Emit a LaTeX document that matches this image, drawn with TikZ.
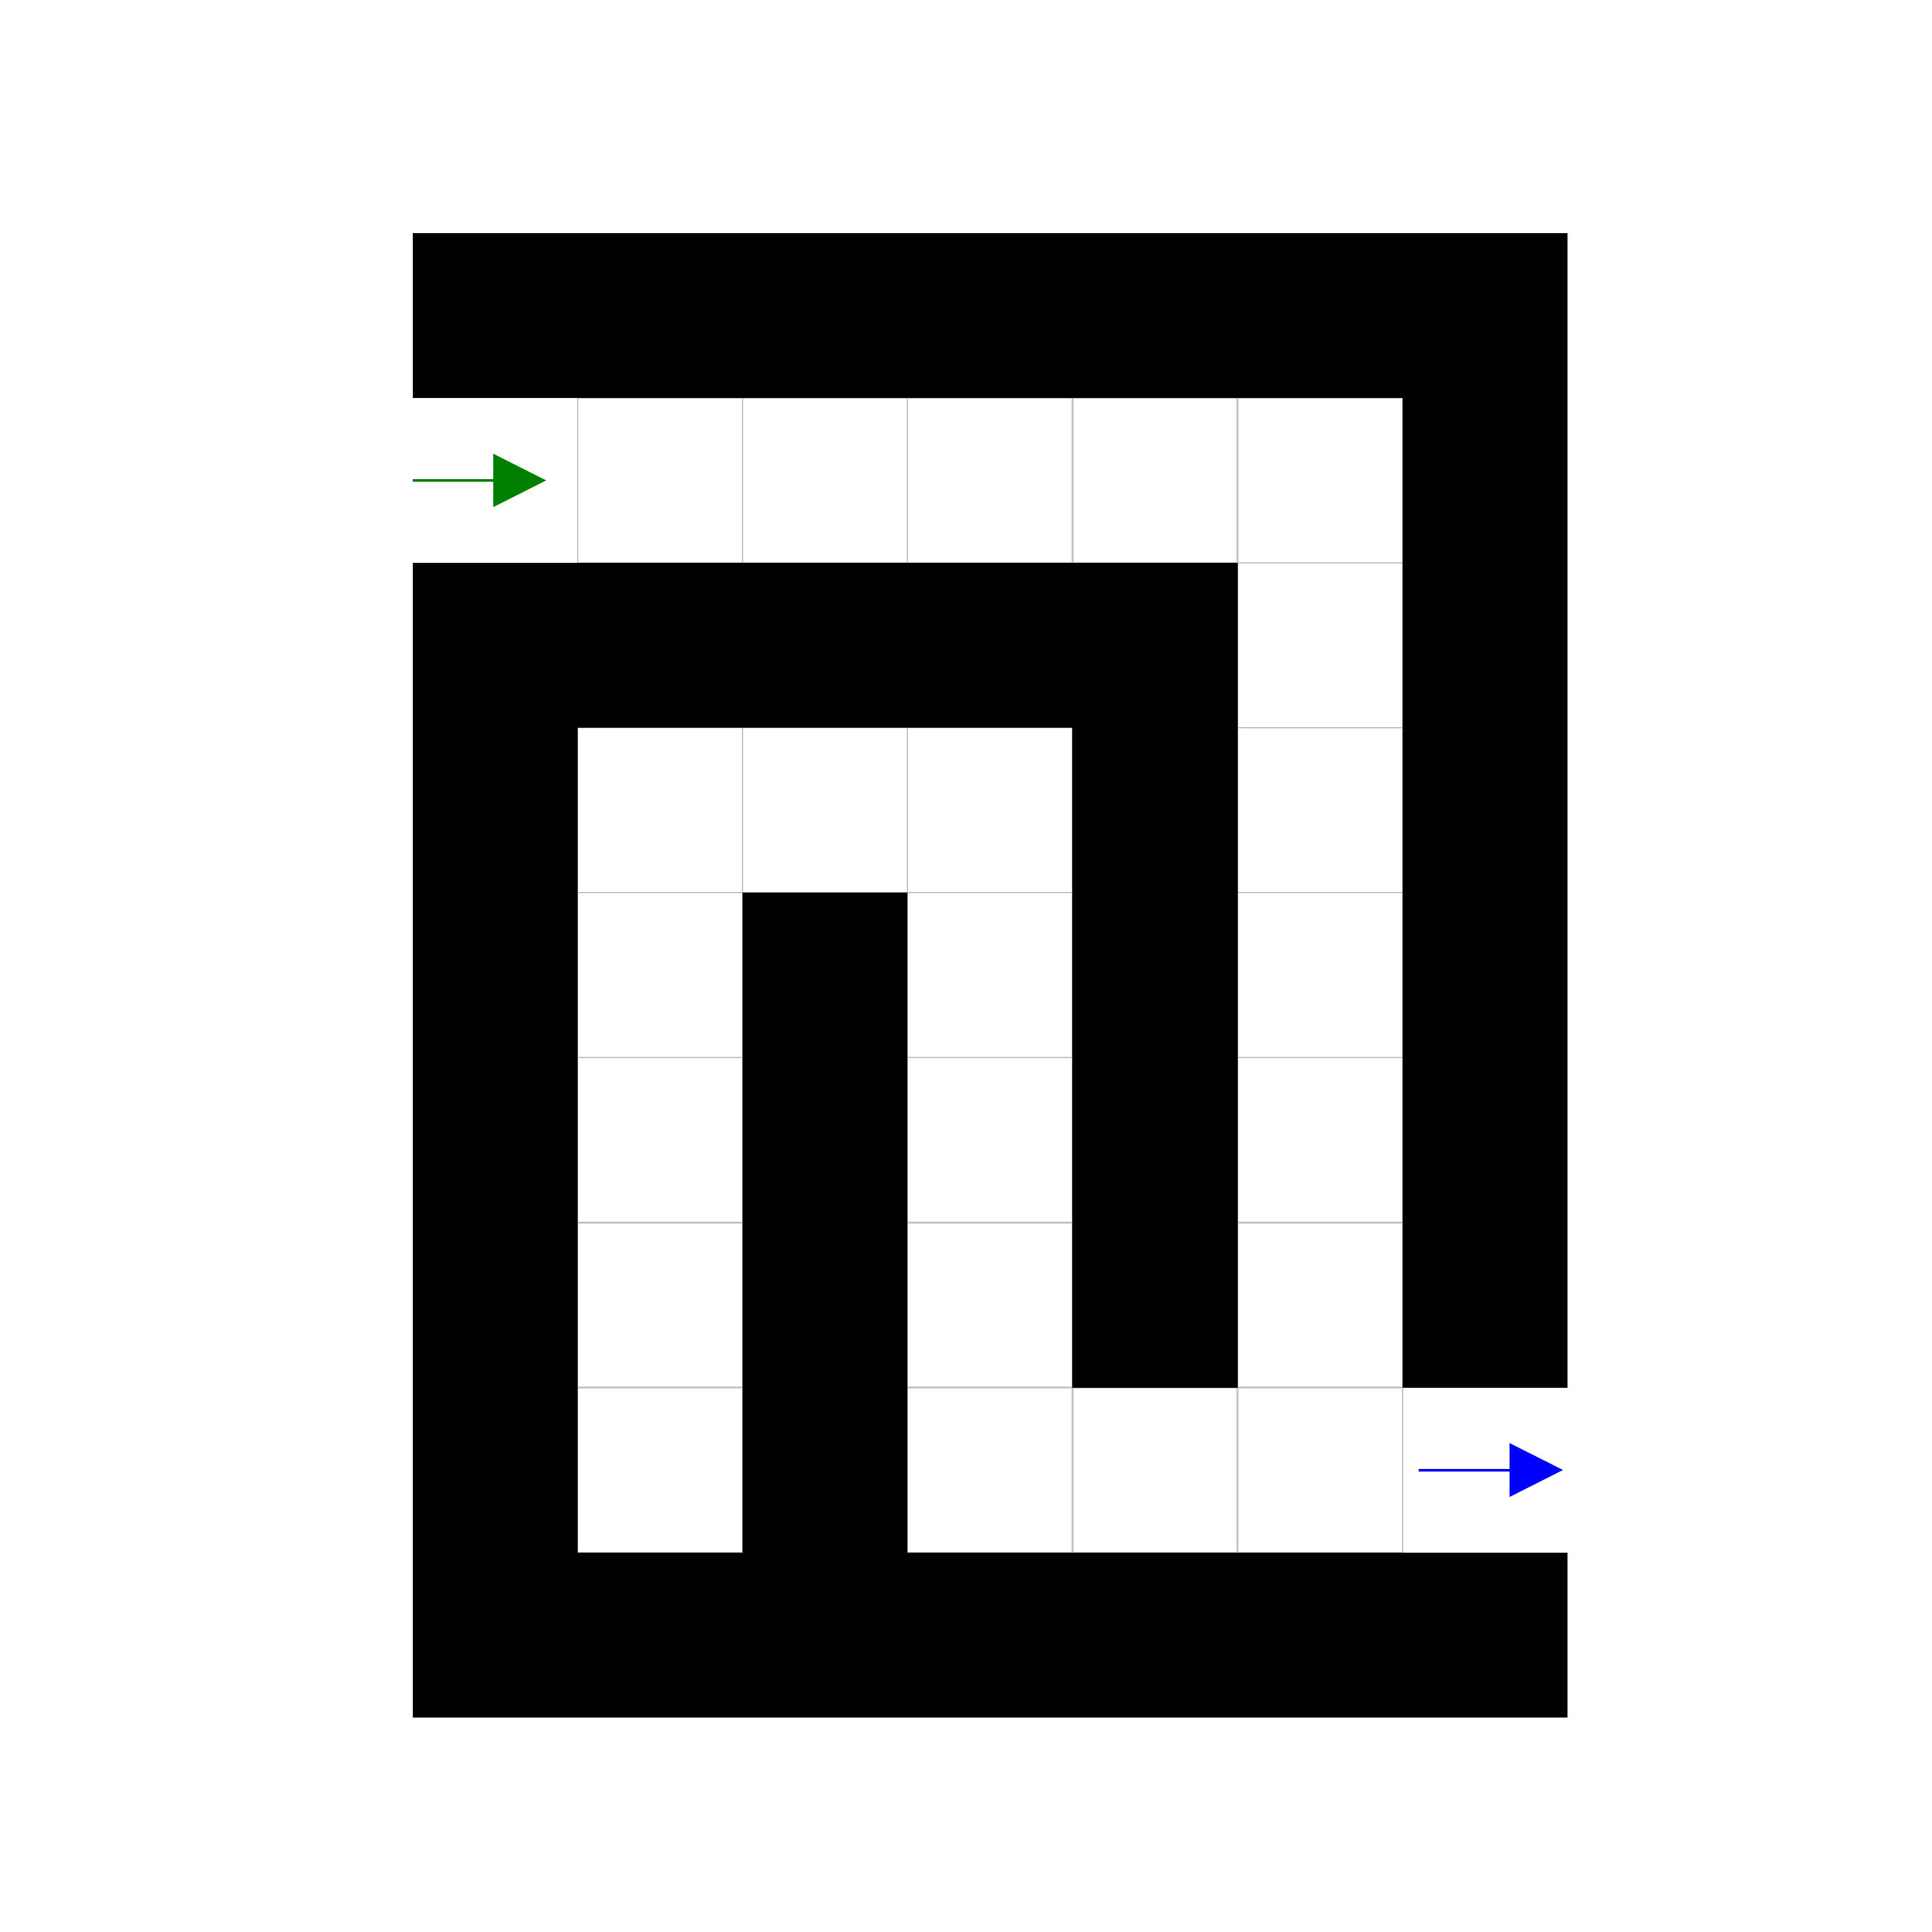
\documentclass[tikz,border=0pt]{standalone}
\definecolor{startgreen}{RGB}{0,128,0}
\begin{document}
\begin{tikzpicture}[x=1cm,y=1cm,
  cellline/.style={draw=black!24,line width=0.25pt},
  wall/.style={fill=black},
  arrowshaft/.style={line width=0.45pt}]
\useasboundingbox (-2.503,-1.30) rectangle (9.211,10.413);
% open cells: (col,row-from-top)
\foreach \c/\r in {1/1,2/1,3/1,4/1,5/1,
                   5/2,
                   1/3,2/3,3/3,5/3,
                   1/4,3/4,5/4,
                   1/5,3/5,5/5,
                   1/6,3/6,5/6,
                   1/7,3/7,4/7,5/7}
  \draw[cellline] (\c,8-\r) rectangle ++(1,1);
% walls
\foreach \c/\r in {0/0,1/0,2/0,3/0,4/0,5/0,6/0,
                   6/1,
                   0/2,1/2,2/2,3/2,4/2,6/2,
                   0/3,4/3,6/3,
                   0/4,2/4,4/4,6/4,
                   0/5,2/5,4/5,6/5,
                   0/6,2/6,4/6,6/6,
                   0/7,2/7,
                   0/8,1/8,2/8,3/8,4/8,5/8,6/8}
  \fill[wall] (\c,8-\r) rectangle ++(1,1);
% start arrow
\coordinate (s0) at (0,7.5);
\coordinate (s1) at (0.487,7.5);
\draw[arrowshaft,draw=startgreen] (s0) -- (s1);
\fill[startgreen] (0.487,7.662) -- (0.808,7.5) -- (0.487,7.338) -- cycle;
% goal arrow
\coordinate (g0) at (6.098,1.5);
\coordinate (g1) at (6.65,1.5);
\draw[arrowshaft,draw=blue] (g0) -- (g1);
\fill[blue] (6.65,1.663) -- (6.973,1.5) -- (6.65,1.337) -- cycle;
\end{tikzpicture}
\end{document}
